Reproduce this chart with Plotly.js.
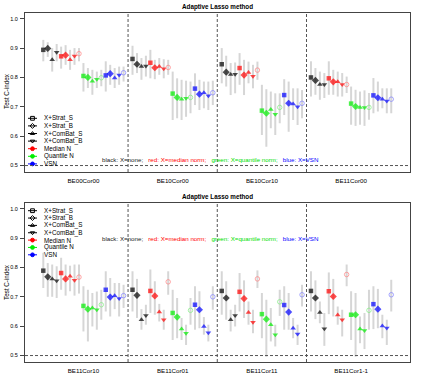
<!DOCTYPE html>
<html>
<head>
<meta charset="utf-8">
<script src="https://cdn.plot.ly/plotly-3.0.1.min.js"></script>
<style>
  html, body { margin: 0; padding: 0; background: #fff; }
  #chart { width: 423px; height: 381px; }
</style>
</head>
<body>
<div id="chart"></div>
<script>
// group names on the x axis of each panel
const groupsTop = ["BE00Cor00", "BE10Cor00", "BE10Cor10", "BE11Cor00"];
const groupsBottom = ["BE11Cor10", "BE11Cor01", "BE11Cor11", "BE11Cor1-1"];

// legend labels
const methodNames = ["X+Strat_S", "X+Strat_B", "X+ComBat_S", "X+ComBat_B"];
const normNames = ["Median N", "Quantile N", "VSN"];

// 19 points per group: black S,B,CS,CB | red S,B,CS,CB,alone | green ... | blue ...
const topMean = [
  [0.894, 0.899, 0.860, 0.886, 0.872, 0.876, 0.860, 0.873, 0.881, 0.805, 0.800, 0.787, 0.794, 0.799, 0.807, 0.813, 0.798, 0.808, 0.816],
  [0.863, 0.845, 0.837, 0.839, 0.850, 0.833, 0.837, 0.830, 0.834, 0.745, 0.732, 0.726, 0.729, 0.732, 0.762, 0.743, 0.748, 0.738, 0.748],
  [0.845, 0.818, 0.810, 0.811, 0.832, 0.808, 0.817, 0.804, 0.825, 0.687, 0.678, 0.691, 0.675, 0.698, 0.740, 0.712, 0.710, 0.700, 0.712],
  [0.800, 0.790, 0.776, 0.776, 0.797, 0.785, 0.785, 0.776, 0.776, 0.711, 0.701, 0.698, 0.698, 0.698, 0.739, 0.731, 0.726, 0.720, 0.726],
];
const topLo = [
  [0.855, 0.870, 0.820, 0.855, 0.830, 0.843, 0.826, 0.843, 0.855, 0.752, 0.764, 0.741, 0.764, 0.770, 0.752, 0.775, 0.764, 0.775, 0.786],
  [0.809, 0.815, 0.792, 0.803, 0.797, 0.794, 0.809, 0.797, 0.809, 0.655, 0.661, 0.655, 0.666, 0.678, 0.706, 0.689, 0.695, 0.689, 0.706],
  [0.780, 0.769, 0.740, 0.746, 0.775, 0.740, 0.780, 0.763, 0.792, 0.604, 0.564, 0.627, 0.604, 0.644, 0.672, 0.615, 0.655, 0.638, 0.661],
  [0.735, 0.741, 0.724, 0.730, 0.741, 0.741, 0.735, 0.735, 0.747, 0.639, 0.635, 0.639, 0.635, 0.656, 0.678, 0.684, 0.695, 0.678, 0.678],
];
const topHi = [
  [0.928, 0.920, 0.900, 0.914, 0.905, 0.910, 0.894, 0.900, 0.900, 0.849, 0.832, 0.826, 0.820, 0.826, 0.855, 0.843, 0.832, 0.837, 0.837],
  [0.908, 0.883, 0.866, 0.874, 0.894, 0.860, 0.866, 0.862, 0.860, 0.820, 0.797, 0.792, 0.789, 0.786, 0.814, 0.792, 0.786, 0.786, 0.789],
  [0.900, 0.874, 0.849, 0.851, 0.883, 0.860, 0.854, 0.843, 0.854, 0.775, 0.760, 0.752, 0.746, 0.746, 0.794, 0.786, 0.763, 0.763, 0.757],
  [0.855, 0.832, 0.820, 0.815, 0.855, 0.826, 0.820, 0.815, 0.803, 0.769, 0.758, 0.752, 0.756, 0.747, 0.798, 0.786, 0.763, 0.763, 0.763],
];

const botMean = [
  [0.789, 0.768, 0.761, 0.755, 0.781, 0.761, 0.770, 0.756, 0.767, 0.669, 0.658, 0.662, 0.656, 0.673, 0.724, 0.699, 0.704, 0.694, 0.704],
  [0.724, 0.705, 0.622, 0.636, 0.720, 0.703, 0.648, 0.622, 0.751, 0.645, 0.631, 0.590, 0.576, 0.654, 0.673, 0.656, 0.599, 0.578, 0.700],
  [0.720, 0.696, 0.622, 0.636, 0.717, 0.694, 0.647, 0.613, 0.761, 0.641, 0.624, 0.605, 0.571, 0.683, 0.672, 0.648, 0.593, 0.573, 0.707],
  [0.720, 0.696, 0.647, 0.591, 0.719, 0.701, 0.638, 0.622, 0.776, 0.639, 0.639, 0.590, 0.585, 0.654, 0.675, 0.658, 0.601, 0.594, 0.707],
];
const botLo = [
  [0.730, 0.700, 0.700, 0.696, 0.724, 0.704, 0.719, 0.704, 0.711, 0.582, 0.548, 0.599, 0.588, 0.622, 0.650, 0.633, 0.658, 0.633, 0.662],
  [0.650, 0.628, 0.588, 0.605, 0.645, 0.639, 0.616, 0.588, 0.707, 0.553, 0.559, 0.553, 0.536, 0.605, 0.588, 0.593, 0.571, 0.548, 0.656],
  [0.639, 0.622, 0.582, 0.599, 0.650, 0.628, 0.605, 0.576, 0.730, 0.559, 0.496, 0.548, 0.531, 0.635, 0.588, 0.588, 0.559, 0.536, 0.667],
  [0.650, 0.624, 0.610, 0.533, 0.641, 0.633, 0.605, 0.565, 0.736, 0.553, 0.496, 0.542, 0.522, 0.588, 0.590, 0.593, 0.559, 0.536, 0.650],
];
const botHi = [
  [0.850, 0.815, 0.810, 0.804, 0.833, 0.810, 0.806, 0.810, 0.810, 0.736, 0.724, 0.713, 0.718, 0.724, 0.787, 0.764, 0.747, 0.747, 0.741],
  [0.787, 0.761, 0.658, 0.673, 0.793, 0.753, 0.676, 0.656, 0.787, 0.724, 0.696, 0.628, 0.605, 0.696, 0.736, 0.719, 0.631, 0.605, 0.736],
  [0.787, 0.753, 0.656, 0.673, 0.781, 0.756, 0.684, 0.656, 0.790, 0.713, 0.690, 0.662, 0.605, 0.724, 0.736, 0.713, 0.628, 0.605, 0.741],
  [0.787, 0.756, 0.684, 0.645, 0.783, 0.761, 0.667, 0.656, 0.810, 0.719, 0.713, 0.633, 0.645, 0.724, 0.736, 0.727, 0.639, 0.622, 0.758],
];

// ---------- styling ----------
const FONT = "Liberation Sans, Arial, sans-serif";
const W = 423, H = 381;
const M = { l: 25, r: 13, t: 13, b: 19 };
const colors = ["#000000", "#ff0000", "#00ee00", "#0000ff"];
const lightColors = ["#000000", "#ff8080", "#80ee80", "#8080ff"];
const symbols = ["square", "diamond", "triangle-up", "triangle-down", "circle-open"];
const sizes = [4.5, 5.5, 5, 5, 4.5];
const period = 20; // 19 points + one gap per group

// pixel -> paper coordinates
function px(x) { return (x - M.l) / (W - M.l - M.r); }
function py(y) { return (H - M.b - y) / (H - M.t - M.b); }

// color index and symbol index of the j-th point in a group
function pointStyle(j) {
  if (j < 4) return { c: 0, s: j };
  const k = j - 4;
  return { c: 1 + Math.floor(k / 5), s: k % 5 };
}

function panelTraces(mean, lo, hi, xa, ya) {
  const x = [], y = [], up = [], down = [];
  const sym = [], col = [], size = [], lw = [];
  mean.forEach((grp, g) => {
    grp.forEach((v, j) => {
      const st = pointStyle(j);
      x.push(g * period + j);
      y.push(v);
      up.push(hi[g][j] - v);
      down.push(v - lo[g][j]);
      sym.push(symbols[st.s]);
      col.push(st.s === 4 ? lightColors[st.c] : colors[st.c]);
      size.push(sizes[st.s]);
      lw.push(st.s === 4 ? 1 : 0);
    });
  });
  const bars = {
    x, y, xaxis: xa, yaxis: ya, type: "scatter", mode: "markers",
    marker: { size: 1, color: "rgba(0,0,0,0)" },
    error_y: { type: "data", symmetric: false, array: up, arrayminus: down,
               color: "#d6d6d6", thickness: 2, width: 0 },
    showlegend: false, hoverinfo: "skip",
  };
  const pts = {
    x, y, xaxis: xa, yaxis: ya, type: "scatter", mode: "markers",
    marker: { symbol: sym, color: col, size, line: { width: lw, color: col } },
    showlegend: false,
  };
  return [bars, pts];
}

const data = [
  ...panelTraces(topMean, topLo, topHi, "x", "y"),
  ...panelTraces(botMean, botLo, botHi, "x2", "y2"),
];

// hand-made legends (R style: short line with symbol, text to the right)
const legendSymbols = ["square-open", "diamond-open", "triangle-up-open", "triangle-down-open", "circle", "circle", "circle"];
const legendColors = ["#000", "#000", "#000", "#000", colors[1], colors[2], colors[3]];
const legendLabels = [...methodNames, ...normNames];
const legendRows = [{ y0: 118.3, step: 7.6 }, { y0: 210.7, step: 7.35 }];

const shapes = [];
const annotations = [];

legendRows.forEach((row) => {
  const lx = [], ly = [];
  legendLabels.forEach((lab, i) => {
    const yy = row.y0 + i * row.step;
    shapes.push({ type: "line", xref: "paper", yref: "paper",
      x0: px(28), x1: px(37), y0: py(yy), y1: py(yy),
      line: { color: legendColors[i], width: 1 } });
    annotations.push({ xref: "paper", yref: "paper", x: px(42), y: py(yy),
      xanchor: "left", yanchor: "middle", text: lab, showarrow: false,
      font: { family: FONT, size: 6.3, color: "#000" } });
    lx.push(px(32.5));
    ly.push(py(yy));
  });
  data.push({ x: lx, y: ly, xaxis: "x3", yaxis: "y3", type: "scatter", mode: "markers",
    marker: { symbol: legendSymbols, color: legendColors, size: 3.8, line: { width: 1, color: legendColors } },
    showlegend: false, hoverinfo: "skip" });
});

// titles, y-axis titles, colour key text
const panelPix = [{ title: 7, mid: 91, key: 159 }, { title: 197, mid: 282, key: 238 }];
const keyText = "black: X=none;&nbsp;&nbsp;&nbsp;<span style='color:#ff0000'>red: X=median norm;</span>&nbsp;&nbsp;&nbsp;" +
  "<span style='color:#00e000'>green: X=quantile norm;</span>&nbsp;&nbsp;&nbsp;<span style='color:#0000ff'>blue: X=VSN</span>";
panelPix.forEach((p) => {
  annotations.push({ xref: "paper", yref: "paper", x: px(217.5), y: py(p.title),
    xanchor: "center", yanchor: "middle", text: "<b>Adaptive Lasso method</b>", showarrow: false,
    font: { family: FONT, size: 6.3, color: "#000" } });
  annotations.push({ xref: "paper", yref: "paper", x: px(6), y: py(p.mid),
    xanchor: "center", yanchor: "middle", text: "Test C-index", textangle: -90, showarrow: false,
    font: { family: FONT, size: 6.3, color: "#000" } });
  annotations.push({ xref: "paper", yref: "paper", x: px(210), y: py(p.key),
    xanchor: "center", yanchor: "middle", text: keyText, showarrow: false,
    font: { family: FONT, size: 6.2, color: "#222" } });
});

// dashed separators and the 0.5 reference line
const dash = { color: "#555", width: 1, dash: "3px,2px" };
[["x", "y"], ["x2", "y2"]].forEach(([xa, ya]) => {
  for (let g = 1; g < 4; g++) {
    shapes.push({ type: "line", xref: xa, yref: ya + " domain",
      x0: g * period - 1, x1: g * period - 1, y0: 0, y1: 1, line: dash });
  }
  shapes.push({ type: "line", xref: xa + " domain", yref: ya,
    x0: 0, x1: 1, y0: 0.5, y1: 0.5, line: dash });
});

const groupCenters = groupsTop.map((_, g) => g * period + 9);

function xAxis(labels, anchor) {
  return {
    anchor, domain: [0, 1], range: [-4.1, 82.2],
    tickvals: groupCenters, ticktext: labels, ticks: "",
    showline: true, mirror: true, linecolor: "#444", linewidth: 1,
    showgrid: false, zeroline: false, ticklabelstandoff: 3,
    tickfont: { family: FONT, size: 6.2, color: "#000" },
  };
}
function yAxis(domain, anchor) {
  return {
    anchor, domain, range: [0.478, 1.0195],
    tickvals: [0.5, 0.6, 0.7, 0.8, 0.9, 1.0], tickformat: ".1f",
    ticks: "outside", ticklen: 4, tickcolor: "#444", tickwidth: 1,
    showline: true, mirror: true, linecolor: "#444", linewidth: 1,
    showgrid: false, zeroline: false, ticklabelstandoff: 1,
    tickfont: { family: FONT, size: 5.5, color: "#000" },
  };
}

const layout = {
  width: W, height: H,
  margin: M,
  paper_bgcolor: "#fff",
  plot_bgcolor: "rgba(0,0,0,0)",
  showlegend: false,
  xaxis: xAxis(groupsTop, "y"),
  yaxis: yAxis([py(172), 1], "x"),
  xaxis2: xAxis(groupsBottom, "y2"),
  yaxis2: yAxis([0, py(203)], "x2"),
  xaxis3: { domain: [0, 1], range: [0, 1], visible: false, anchor: "y3", fixedrange: true },
  yaxis3: { domain: [0, 1], range: [0, 1], visible: false, anchor: "x3", fixedrange: true },
  shapes,
  annotations,
};

Plotly.newPlot("chart", data, layout, { displayModeBar: false, staticPlot: true });
</script>
</body>
</html>
